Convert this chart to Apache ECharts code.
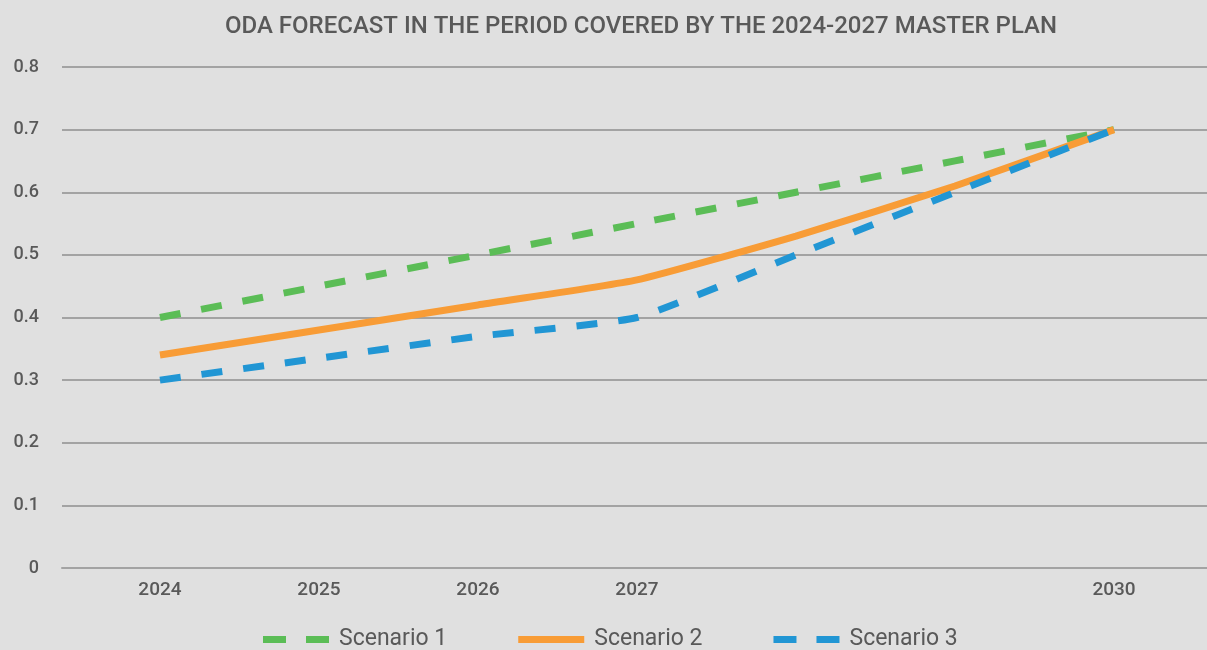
<!DOCTYPE html>
<html>
<head>
<meta charset="utf-8">
<script src="https://cdn.jsdelivr.net/npm/echarts@6/dist/echarts.min.js"></script>
<style>
  html, body { margin: 0; padding: 0; background: #e0e0e0; }
  #chart { width: 1207px; height: 650px; }
</style>
</head>
<body>
<div id="chart"></div>
<script>
// years on the axis (2028 and 2029 carry no label in the original)
const years = [2024, 2025, 2026, 2027, 2028, 2029, 2030];
const yearLabels = [2024, 2025, 2026, 2027, 2030];

const scenario1 = [0.40, 0.45, 0.50, 0.55, 0.60, 0.65, 0.70];
const scenario2 = [0.34, 0.38, 0.42, 0.46, 0.53, 0.61, 0.70];
const scenario3 = [0.30, 0.335, 0.37, 0.40, 0.50, 0.60, 0.70];

const pairs = vals => years.map((y, i) => [y, vals[i]]);

const font = "Roboto, 'Noto Sans', sans-serif";
const textColor = "#595959";
const gridColor = "#a3a3a3";
// two dashes, like the dashed lines
const dashIcon = "path://M0,0h23v7h-23z M43,0h23v7h-23z";

const chart = echarts.init(document.getElementById("chart"));
chart.setOption({
  backgroundColor: "#e0e0e0",
  title: {
    text: "ODA FORECAST IN THE PERIOD COVERED BY THE 2024-2027 MASTER PLAN",
    left: 220,
    top: 10,
    textStyle: {
      color: textColor,
      fontFamily: font,
      fontSize: 24,
      fontWeight: 500
    }
  },
  grid: { left: 62, right: 0, top: 67, bottom: 82, containLabel: false },
  legend: {
    left: 258,
    top: 623,
    itemWidth: 66,
    itemHeight: 7,
    itemGap: 71,
    textStyle: { color: textColor, fontFamily: font, fontSize: 23, padding: [0, 0, 0, 5] },
    data: [
      { name: "Scenario 1", icon: dashIcon },
      { name: "Scenario 2", icon: "rect" },
      { name: "Scenario 3", icon: dashIcon }
    ]
  },
  xAxis: {
    type: "value",
    min: 2023.384,
    max: 2030.585,
    axisLine: { show: true, lineStyle: { color: gridColor, width: 2 } },
    axisTick: { show: false },
    splitLine: { show: false },
    axisLabel: {
      customValues: yearLabels,
      margin: 13,
      color: textColor,
      fontFamily: font,
      fontSize: 19,
      fontWeight: 500,
      formatter: v => String(v)
    }
  },
  yAxis: {
    type: "value",
    min: 0,
    max: 0.8,
    interval: 0.1,
    axisLine: { show: false },
    axisTick: { show: false },
    splitLine: { lineStyle: { color: gridColor, width: 2 } },
    axisLabel: {
      margin: 23,
      color: textColor,
      fontFamily: font,
      fontSize: 18,
      fontWeight: 500,
      formatter: v => (v === 0 ? "0" : v.toFixed(1))
    }
  },
  series: [
    {
      name: "Scenario 1",
      type: "line",
      data: pairs(scenario1),
      smooth: 0.15,
      symbol: "none",
      color: "#5bbd56",
      lineStyle: { width: 7, type: [21, 21], cap: "butt" }
    },
    {
      name: "Scenario 2",
      type: "line",
      data: pairs(scenario2),
      smooth: 0.15,
      symbol: "none",
      color: "#f89c36",
      lineStyle: { width: 7 }
    },
    {
      name: "Scenario 3",
      type: "line",
      data: pairs(scenario3),
      smooth: 0.15,
      symbol: "none",
      color: "#2196d4",
      lineStyle: { width: 7, type: [21, 21], cap: "butt" }
    }
  ]
});
</script>
</body>
</html>
